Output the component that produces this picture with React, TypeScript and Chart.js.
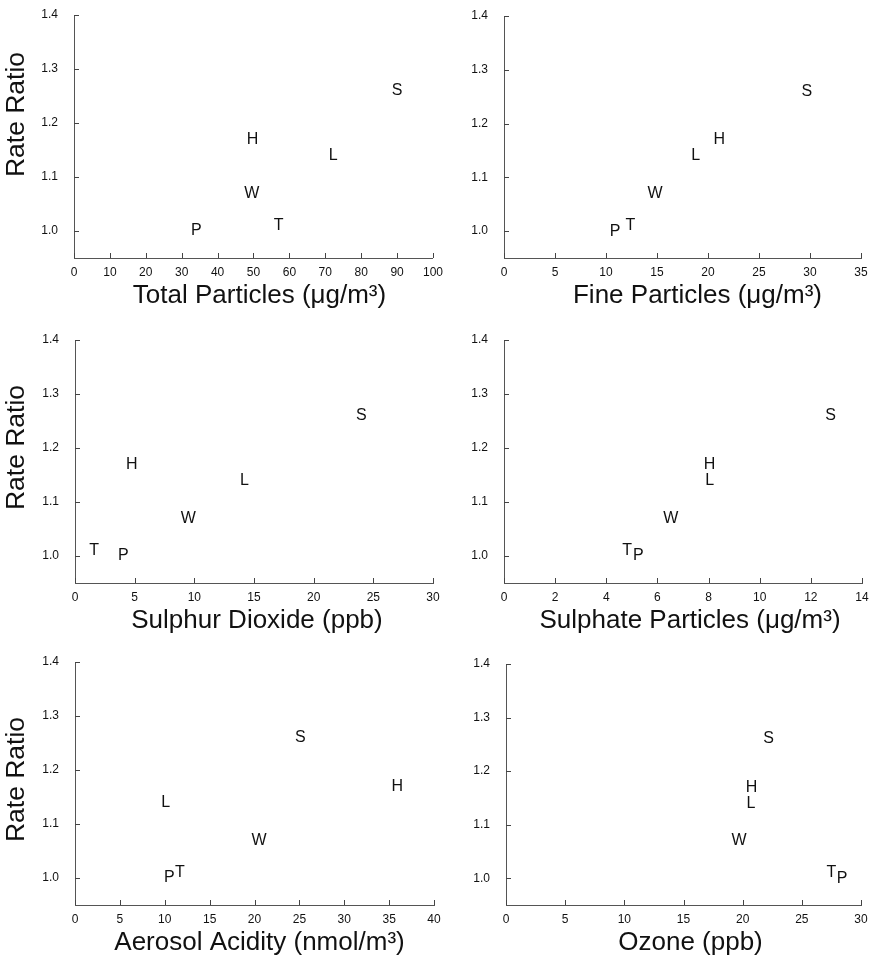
import React, { useEffect, useRef } from 'react';
import { Chart, registerables } from 'chart.js';

Chart.register(...registerables);

// ---- data ----
const cityCodes = ['P', 'T', 'W', 'H', 'L', 'S'];
const rateRatios = [1.0, 1.01, 1.07, 1.17, 1.14, 1.26];

const totalParticles = [34.1, 57.0, 49.5, 49.7, 72.2, 90.0];
const fineParticles = [10.9, 12.4, 14.8, 21.1, 18.8, 29.7];
const sulphurDioxide = [4.05, 1.6, 9.5, 4.75, 14.2, 24.0];
const sulphateParticles = [5.25, 4.82, 6.52, 8.04, 8.04, 12.77];
const aerosolAcidity = [10.5, 11.7, 20.5, 35.9, 10.1, 25.1];
const ozone = [28.4, 27.5, 19.7, 20.75, 20.7, 22.2];

const yTickValues = [1.0, 1.1, 1.2, 1.3, 1.4];
const yAxisTitle = 'Rate Ratio';

const FONT = '"Liberation Sans", Arial, Helvetica, sans-serif';
Chart.defaults.font.family = FONT;

type PanelSpec = {
  title: string;
  values: number[];
  xMax: number;
  xStep: number;
  left: number;
  top: number;
  width: number;
  yAxisWidth: number;
  padRight: number;
  padTop: number;
  showYTitle: boolean;
  xTitleShift: number;
  yTitleShift: number;
};

const CANVAS_H = 316;
const X_AXIS_H = 58;

const panels: PanelSpec[] = [
  { title: 'Total Particles (μg/m³)', values: totalParticles, xMax: 100, xStep: 10, left: 0, top: 0, width: 450, yAxisWidth: 74, padRight: 17, padTop: 15, showYTitle: true, xTitleShift: 6, yTitleShift: -22 },
  { title: 'Fine Particles (μg/m³)', values: fineParticles, xMax: 35, xStep: 5, left: 438, top: 0, width: 438, yAxisWidth: 66, padRight: 15, padTop: 16, showYTitle: false, xTitleShift: 15, yTitleShift: 0 },
  { title: 'Sulphur Dioxide (ppb)', values: sulphurDioxide, xMax: 30, xStep: 5, left: 0, top: 325, width: 448, yAxisWidth: 75, padRight: 15, padTop: 15, showYTitle: true, xTitleShift: 3, yTitleShift: -14 },
  { title: 'Sulphate Particles (μg/m³)', values: sulphateParticles, xMax: 14, xStep: 2, left: 438, top: 325, width: 438, yAxisWidth: 66, padRight: 14, padTop: 15, showYTitle: false, xTitleShift: 7, yTitleShift: 0 },
  { title: 'Aerosol Acidity (nmol/m³)', values: aerosolAcidity, xMax: 40, xStep: 5, left: 0, top: 647, width: 448, yAxisWidth: 75, padRight: 14, padTop: 15, showYTitle: true, xTitleShift: 5, yTitleShift: -4 },
  { title: 'Ozone (ppb)', values: ozone, xMax: 30, xStep: 5, left: 438, top: 647, width: 438, yAxisWidth: 68, padRight: 15, padTop: 17, showYTitle: false, xTitleShift: 7, yTitleShift: 0 },
];

const letterPlugin = {
  id: 'letterMarks',
  afterDatasetsDraw(chart: any) {
    const ctx = chart.ctx;
    const meta = chart.getDatasetMeta(0);
    ctx.save();
    ctx.fillStyle = '#111';
    ctx.font = `16px ${FONT}`;
    ctx.textAlign = 'center';
    ctx.textBaseline = 'middle';
    meta.data.forEach((pt: any, i: number) => {
      ctx.fillText(cityCodes[i], pt.x, pt.y);
    });
    ctx.restore();
  },
};

const inwardTicks = {
  id: 'inwardTicks',
  afterDraw(chart: any) {
    const ctx = chart.ctx;
    const xs = chart.scales.x;
    const ys = chart.scales.y;
    ctx.save();
    ctx.strokeStyle = '#444';
    ctx.lineWidth = 1;
    ctx.beginPath();
    xs.ticks.forEach((_t: any, i: number) => {
      const px = Math.round(xs.getPixelForTick(i)) + 0.5;
      ctx.moveTo(px, xs.top);
      ctx.lineTo(px, xs.top - 5);
    });
    ys.ticks.forEach((_t: any, i: number) => {
      const py = Math.round(ys.getPixelForTick(i)) + 0.5;
      ctx.moveTo(ys.right, py);
      ctx.lineTo(ys.right + 5, py);
    });
    ctx.stroke();
    ctx.restore();
  },
};

const axisTitles = {
  id: 'axisTitles',
  afterDraw(chart: any, _args: any, opts: any) {
    const ctx = chart.ctx;
    const xs = chart.scales.x;
    const ys = chart.scales.y;
    ctx.save();
    ctx.fillStyle = '#111';
    ctx.textAlign = 'center';
    ctx.textBaseline = 'middle';
    ctx.font = `26px ${FONT}`;
    ctx.fillText(opts.xTitle, (xs.left + xs.right) / 2 + opts.xShift, xs.top + 38);
    if (opts.showY) {
      ctx.font = `26.5px ${FONT}`;
      ctx.translate(17, (ys.top + ys.bottom) / 2 + opts.yShift);
      ctx.rotate(-Math.PI / 2);
      ctx.fillText(opts.yTitle, 0, 0);
    }
    ctx.restore();
  },
};

function Panel({ spec }: { spec: PanelSpec }) {
  const ref = useRef<HTMLCanvasElement | null>(null);
  useEffect(() => {
    if (!ref.current) return;
    const chart = new Chart(ref.current, {
      type: 'scatter',
      data: {
        datasets: [
          {
            data: spec.values.map((v, i) => ({ x: v, y: rateRatios[i] })),
            pointRadius: 0,
            pointHoverRadius: 0,
          },
        ],
      },
      options: {
        animation: false,
        responsive: false,
        events: [],
        layout: { padding: { left: 0, right: spec.padRight, top: spec.padTop, bottom: 0 } },
        plugins: {
          legend: { display: false },
          tooltip: { enabled: false },
          axisTitles: {
            xTitle: spec.title,
            xShift: spec.xTitleShift,
            showY: spec.showYTitle,
            yTitle: yAxisTitle,
            yShift: spec.yTitleShift,
          },
        },
        scales: {
          x: {
            type: 'linear',
            min: 0,
            max: spec.xMax,
            grid: { display: false, drawTicks: false },
            border: { display: true, color: '#555', width: 1, dash: [4, 1.5] },
            ticks: {
              stepSize: spec.xStep,
              color: '#111',
              padding: 7,
              maxRotation: 0,
              autoSkip: false,
              font: { size: 12, family: FONT },
              callback: (v: any) => String(v),
            },
            title: { display: false },
            afterFit: (s: any) => {
              s.height = X_AXIS_H;
            },
          },
          y: {
            type: 'linear',
            min: 0.95,
            max: 1.4,
            grid: { display: false, drawTicks: true, tickLength: 16 },
            border: { display: true, color: '#555', width: 1, dash: [4, 1.5] },
            afterBuildTicks: (s: any) => {
              s.ticks = yTickValues.map((v) => ({ value: v }));
            },
            ticks: {
              color: '#111',
              padding: 0,
              font: { size: 12, family: FONT },
              callback: (v: any) => Number(v).toFixed(1),
            },
            title: { display: false },
            afterFit: (s: any) => {
              s.width = spec.yAxisWidth;
            },
          },
        },
      },
      plugins: [letterPlugin, inwardTicks, axisTitles],
    } as any);
    return () => chart.destroy();
  }, [spec]);
  return (
    <canvas
      ref={ref}
      width={spec.width}
      height={CANVAS_H}
      style={{ position: 'absolute', left: spec.left, top: spec.top, width: spec.width, height: CANVAS_H, display: 'block' }}
    />
  );
}

export default function App() {
  return (
    <div style={{ position: 'absolute', left: 0, top: 0, width: 876, height: 963, background: '#fff', overflow: 'hidden' }}>
      {panels.map((p, i) => (
        <Panel key={i} spec={p} />
      ))}
    </div>
  );
}
